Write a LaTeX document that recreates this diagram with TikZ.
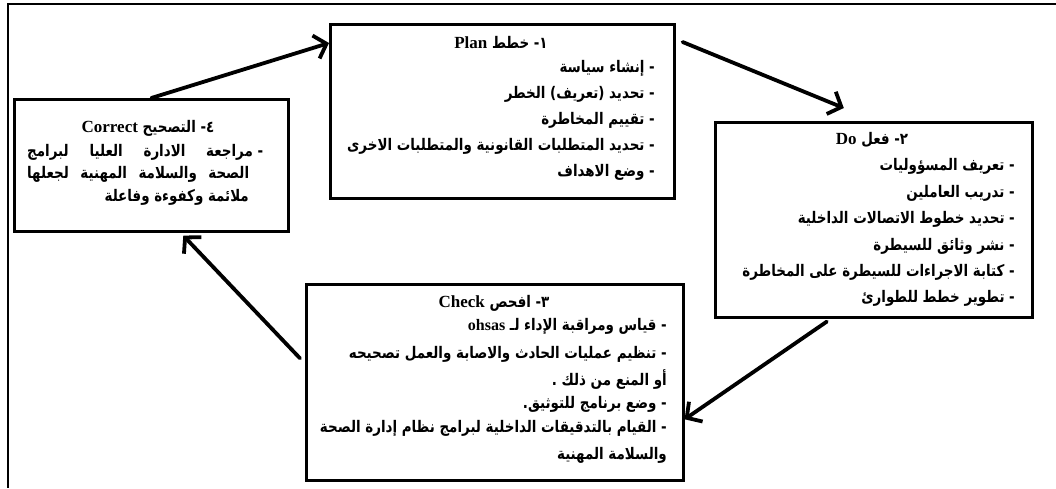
\documentclass[tikz,border=0pt]{standalone}
\usepackage{fontspec}
\setmainfont{Liberation Serif}
\newfontfamily\arabicfont[Script=Arabic,FakeStretch=0.84]{DejaVu Sans}
\TeXXeTstate=1
\usetikzlibrary{arrows.meta}
\newcommand{\ar}[1]{{\arabicfont\bfseries\beginR #1\endR}}
\newcommand{\en}[1]{\beginL{\rmfamily\bfseries #1}\endL}
\newcommand{\tl}[1]{\beginL{\rmfamily\bfseries\fontsize{17}{20}\selectfont #1}\endL}
\begin{document}
\begin{tikzpicture}[x=1pt,y=-1pt,
  box/.style={draw, line width=2.6pt, inner sep=0pt, anchor=north west},
  flow/.style={line width=3.8pt, line cap=round, -{Straight Barb[length=11pt,width=24pt,line width=3.8pt]}},
  ttl/.style={inner sep=0pt, anchor=center, font=\fontsize{16}{18}\selectfont},
  itm/.style={inner sep=0pt, anchor=east, font=\fontsize{16}{18}\selectfont},
  itw/.style={inner sep=0pt, anchor=west, font=\fontsize{16}{18}\selectfont}
]
\useasboundingbox (0,0) rectangle (1056,488);
\draw[line width=2.5pt] (7,4) -- (1056,4);
\draw[line width=1.2pt] (8,4) -- (8,488);

\node[box, minimum width=344pt, minimum height=174pt] (plan) at (329,23) {};
\node[box, minimum width=317pt, minimum height=195pt] (do) at (714,121) {};
\node[box, minimum width=377pt, minimum height=196pt] (check) at (305,283) {};
\node[box, minimum width=274pt, minimum height=132pt] (correct) at (13,98) {};

% Plan
\node[ttl] (plant) at (501,43) {\ar{١\hbox{-} خطط \tl{Plan}}};
\node[itm] (p1) at (655,68) {\ar{- إنشاء سياسة}};
\node[itm] (p2) at (655,94) {\ar{- تحديد (تعريف) الخطر}};
\node[itm] (p3) at (655,120) {\ar{- تقييم المخاطرة}};
\node[itm] (p4) at (655,146) {\ar{- تحديد المتطلبات القانونية والمتطلبات الاخرى}};
\node[itm] (p5) at (655,172) {\ar{- وضع الاهداف}};

% Do
\node[ttl] (dot) at (872,140) {\ar{٢\hbox{-} فعل \tl{Do}}};
\node[itm] (d1) at (1015,166) {\ar{- تعريف المسؤوليات}};
\node[itm] (d2) at (1015,193) {\ar{- تدريب العاملين}};
\node[itm] (d3) at (1015,219) {\ar{- تحديد خطوط الاتصالات الداخلية}};
\node[itm] (d4) at (1015,246) {\ar{- نشر وثائق للسيطرة}};
\node[itm] (d5) at (1015,272) {\ar{- كتابة الاجراءات للسيطرة على المخاطرة}};
\node[itm] (d6) at (1015,298) {\ar{- تطوير خطط للطوارئ}};

% Check
\node[ttl] (checkt) at (494,303) {\ar{٣\hbox{-} افحص \tl{Check}}};
\node[itm] (c1) at (667,326) {\ar{- قياس ومراقبة الإداء لـ \en{\fontsize{16}{18}\selectfont ohsas}}};
\node[itm] (c2) at (667,354) {\ar{- تنظيم عمليات الحادث والاصابة والعمل تصحيحه}};
\node[itm] (c3) at (667,379) {\ar{أو المنع من ذلك .}};
\node[itm] (c4) at (667,404) {\ar{- وضع برنامج للتوثيق.}};
\node[itm] (c5) at (667,428) {\ar{- القيام بالتدقيقات الداخلية لبرامج نظام إدارة الصحة}};
\node[itm] (c6) at (667,455) {\ar{والسلامة المهنية}};

% Correct
\node[ttl] (correctt) at (148,128) {\ar{٤\hbox{-} التصحيح \tl{Correct}}};
\node[itw] (k1) at (27,152) {\hbox to 236pt{\arabicfont\bfseries\beginR - مراجعة\hfill الادارة\hfill العليا\hfill لبرامج\endR}};
\node[itw] (k2) at (27,174) {\hbox to 222pt{\arabicfont\bfseries\beginR الصحة\hfill والسلامة\hfill المهنية\hfill لجعلها\endR}};
\node[itm] (k3) at (249,197) {\ar{ملائمة وكفوءة وفاعلة}};

% arrows
\draw[flow] (correct.north) -- ([yshift=-20pt]plan.north west);
\draw[flow] ([xshift=7pt,yshift=-19pt]plan.north east) -- ([xshift=-30pt,yshift=13pt]do.north);
\draw[flow] ([xshift=-47pt,yshift=-3pt]do.south) -- ([yshift=-37pt]check.east);
\draw[flow] ([xshift=-5pt,yshift=24pt]check.west) -- ([xshift=32pt,yshift=-3pt]correct.south);
\end{tikzpicture}
\end{document}
